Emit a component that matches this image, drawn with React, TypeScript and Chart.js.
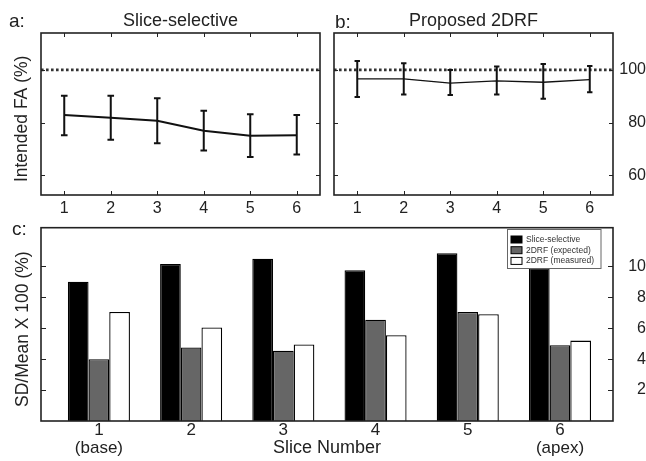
import React, { useEffect, useRef } from 'react';
import { Chart, registerables } from 'chart.js';

Chart.register(...registerables);

const FONT = '"Liberation Sans", Arial, Helvetica, sans-serif';
Chart.defaults.font.family = FONT;
Chart.defaults.color = '#222';

// ---------- data ----------
const sliceNumbers = [1, 2, 3, 4, 5, 6];
const sliceSubLabels = ['(base)', '', '', '', '', '(apex)'];
const faTicks = [60, 80, 100];
const intendedFA = 100;

// a: Slice-selective (mean, lower, upper of error bars)
const ssMean = [82.9, 81.8, 80.7, 76.9, 75.0, 75.2];
const ssLow = [75.2, 73.5, 72.1, 69.4, 66.9, 67.9];
const ssHigh = [90.2, 90.2, 89.2, 84.5, 83.2, 82.9];

// b: Proposed 2DRF
const rfMean = [96.6, 96.6, 95.0, 95.8, 95.3, 96.3];
const rfLow = [89.7, 90.7, 90.5, 90.7, 89.0, 91.5];
const rfHigh = [103.4, 102.5, 100.0, 101.3, 102.2, 101.5];

// c: SD/Mean x 100
const barSeriesNames = ['Slice-selective', '2DRF (expected)', '2DRF (measured)'];
const sliceSelectiveCV = [9.0, 10.15, 10.5, 9.75, 10.85, 9.9];
const expectedCV = [4.0, 4.75, 4.55, 6.55, 7.05, 4.9];
const measuredCV = [7.05, 6.05, 4.95, 5.55, 6.9, 5.2];
const cvTicks = [2, 4, 6, 8, 10];

// axis ranges
const FA_MIN = 52.5;
const FA_MAX = 114;
const X_MIN = 0.5;
const X_MAX = 6.5;
const BAR_X_MIN = 0.372;
const BAR_X_MAX = 6.575;
const CV_MIN = 0;
const CV_MAX = 12.5;

// ---------- helpers ----------
function fixedTicks(values: number[]) {
  return (scale: any) => {
    scale.ticks = values.map((v) => ({ value: v }));
  };
}
function fixWidth(w: number) {
  return (scale: any) => {
    scale.width = w;
    scale.paddingTop = 0;
    scale.paddingBottom = 0;
    scale.paddingLeft = 0;
    scale.paddingRight = 0;
  };
}
function fixHeight(h: number) {
  return (scale: any) => {
    scale.height = h;
    scale.paddingTop = 0;
    scale.paddingBottom = 0;
    scale.paddingLeft = 0;
    scale.paddingRight = 0;
  };
}

const noGrid = { display: false, drawTicks: false, drawOnChartArea: false };

function makeFrame(xTicks: boolean, tickLen: number) {
  return {
    id: 'frame',
    afterDraw(chart: any) {
      const { ctx, chartArea: a } = chart;
      ctx.save();
      ctx.strokeStyle = '#222';
      ctx.lineWidth = 1;
      const line = (x1: number, y1: number, x2: number, y2: number) => {
        ctx.beginPath();
        ctx.moveTo(x1, y1);
        ctx.lineTo(x2, y2);
        ctx.stroke();
      };
      if (xTicks) {
        const xs = chart.scales.x;
        for (const t of xs.ticks) {
          const px = Math.round(xs.getPixelForValue(t.value)) + 0.5;
          line(px, a.bottom, px, a.bottom - tickLen);
          line(px, a.top, px, a.top + tickLen);
        }
      }
      const ys = chart.scales.y;
      for (const t of ys.ticks) {
        const py = Math.round(ys.getPixelForValue(t.value)) + 0.5;
        line(a.left, py, a.left + tickLen, py);
        line(a.right, py, a.right - tickLen, py);
      }
      ctx.lineWidth = 1.6;
      ctx.strokeRect(a.left, a.top, a.right - a.left, a.bottom - a.top);
      ctx.restore();
    },
  };
}

function makeErrorBars(low: number[], high: number[], cap: number, width: number) {
  return {
    id: 'errorBars',
    afterDatasetsDraw(chart: any) {
      const xs = chart.scales.x;
      const ys = chart.scales.y;
      const { ctx } = chart;
      ctx.save();
      ctx.strokeStyle = '#111';
      ctx.lineWidth = width;
      low.forEach((lo, i) => {
        const x = xs.getPixelForValue(sliceNumbers[i]);
        const yl = ys.getPixelForValue(lo);
        const yh = ys.getPixelForValue(high[i]);
        ctx.beginPath();
        ctx.moveTo(x, yl);
        ctx.lineTo(x, yh);
        ctx.moveTo(x - cap, yl);
        ctx.lineTo(x + cap, yl);
        ctx.moveTo(x - cap, yh);
        ctx.lineTo(x + cap, yh);
        ctx.stroke();
      });
      ctx.restore();
    },
  };
}

const barLegend = {
  id: 'barLegend',
  afterDraw(chart: any) {
    const { ctx, chartArea: a } = chart;
    const w = 93.5;
    const h = 39;
    const x0 = Math.round(a.right - 106.5) + 0.5;
    const y0 = Math.round(a.top + 1) + 0.5;
    ctx.save();
    ctx.fillStyle = '#fff';
    ctx.fillRect(x0, y0, w, h);
    ctx.strokeStyle = '#666';
    ctx.lineWidth = 1;
    ctx.strokeRect(x0, y0, w, h);
    chart.data.datasets.forEach((ds: any, i: number) => {
      const cy = y0 + 10 + i * 10.7;
      ctx.fillStyle = ds.backgroundColor;
      ctx.fillRect(x0 + 3.5, cy - 3.5, 11, 7);
      ctx.strokeStyle = '#000';
      ctx.strokeRect(x0 + 3.5, cy - 3.5, 11, 7);
      ctx.fillStyle = '#333';
      ctx.font = `8.5px ${FONT}`;
      ctx.textBaseline = 'middle';
      ctx.textAlign = 'left';
      ctx.fillText(ds.label, x0 + 18.5, cy);
    });
    ctx.restore();
  },
};

function topPanel(
  mean: number[],
  low: number[],
  high: number[],
  titleText: string,
  side: 'left' | 'right',
  lineWidth: number,
  cap: number
): any {
  const yAxis: any = {
    type: 'linear',
    position: side,
    min: FA_MIN,
    max: FA_MAX,
    afterBuildTicks: fixedTicks(faTicks),
    grid: noGrid,
    border: { display: false },
  };
  if (side === 'left') {
    Object.assign(yAxis, {
      afterFit: fixWidth(41),
      ticks: { display: false },
      title: {
        display: true,
        text: 'Intended FA (%)  ',
        font: { size: 17.5 },
        padding: { top: 11.5, bottom: 0 },
      },
    });
  } else {
    Object.assign(yAxis, {
      afterFit: fixWidth(33),
      ticks: { font: { size: 16 }, crossAlign: 'far', padding: 4 },
    });
  }
  return {
    type: 'line',
    data: {
      datasets: [
        {
          label: titleText,
          data: sliceNumbers.map((x, i) => ({ x, y: mean[i] })),
          borderColor: '#111',
          borderWidth: lineWidth,
          pointRadius: 0,
          tension: 0,
          fill: false,
        },
        {
          label: 'Intended FA',
          data: [
            { x: X_MIN, y: intendedFA },
            { x: X_MAX, y: intendedFA },
          ],
          borderColor: '#333',
          borderWidth: 2.6,
          borderDash: [2.6, 2.4],
          pointRadius: 0,
          fill: false,
        },
      ],
    },
    options: {
      responsive: false,
      animation: false,
      events: [],
      layout: {
        padding:
          side === 'left'
            ? { left: 0, right: 7, top: 0, bottom: 0 }
            : { left: 7, right: 0, top: 0, bottom: 0 },
      },
      scales: {
        x: {
          type: 'linear',
          min: X_MIN,
          max: X_MAX,
          offset: false,
          afterBuildTicks: fixedTicks(sliceNumbers),
          afterFit: fixHeight(27),
          grid: noGrid,
          border: { display: false },
          ticks: { font: { size: 16 }, padding: 4, maxRotation: 0, autoSkip: false },
        },
        y: yAxis,
      },
      plugins: {
        legend: { display: false },
        tooltip: { enabled: false },
        title: {
          display: true,
          text: titleText,
          fullSize: false,
          font: { size: 18, weight: 'normal' },
          padding: { top: 10.5, bottom: 0.9 },
          color: '#222',
        },
      },
    },
    plugins: [makeErrorBars(low, high, cap, 2), makeFrame(true, 4)],
  };
}

function barPanel(): any {
  const values = [sliceSelectiveCV, expectedCV, measuredCV];
  const colors = ['#000000', '#666666', '#ffffff'];
  return {
    type: 'bar',
    data: {
      datasets: values.map((vals, k) => ({
        label: barSeriesNames[k],
        data: sliceNumbers.map((x, i) => ({ x, y: vals[i] })),
        backgroundColor: colors[k],
        borderColor: '#000',
        borderWidth: 1.3,
        categoryPercentage: 0.673,
        barPercentage: 1,
      })),
    },
    options: {
      responsive: false,
      animation: false,
      events: [],
      layout: { padding: { left: 0, right: 0, top: 9.7, bottom: 0 } },
      scales: {
        x: {
          type: 'linear',
          min: BAR_X_MIN,
          max: BAR_X_MAX,
          offset: false,
          afterBuildTicks: fixedTicks(sliceNumbers),
          afterFit: fixHeight(40),
          grid: noGrid,
          border: { display: false },
          ticks: {
            font: { size: 17, lineHeight: 1.08 },
            padding: 0,
            maxRotation: 0,
            autoSkip: false,
            callback: (v: any) => {
              const i = sliceNumbers.indexOf(Number(v));
              const sub = sliceSubLabels[i];
              return sub ? [String(v), sub] : String(v);
            },
          },
          title: {
            display: true,
            text: 'Slice Number',
            font: { size: 18 },
            padding: { top: 0, bottom: 1.8 },
          },
        },
        y: {
          type: 'linear',
          position: 'left',
          min: CV_MIN,
          max: CV_MAX,
          afterBuildTicks: fixedTicks(cvTicks),
          afterFit: fixWidth(41),
          grid: noGrid,
          border: { display: false },
          ticks: { display: false },
          title: {
            display: true,
            text: 'SD/Mean X 100 (%)  ',
            font: { size: 17.5 },
            padding: { top: 13, bottom: 0 },
          },
        },
        y2: {
          type: 'linear',
          position: 'right',
          min: CV_MIN,
          max: CV_MAX,
          afterBuildTicks: fixedTicks(cvTicks),
          afterFit: fixWidth(33),
          grid: noGrid,
          border: { display: false },
          ticks: { font: { size: 16 }, crossAlign: 'far', padding: 8.5 },
        },
      },
      plugins: {
        legend: { display: false },
        tooltip: { enabled: false },
      },
    },
    plugins: [barLegend, makeFrame(false, 5)],
  };
}

export default function App() {
  const aRef = useRef<HTMLCanvasElement>(null);
  const bRef = useRef<HTMLCanvasElement>(null);
  const cRef = useRef<HTMLCanvasElement>(null);

  useEffect(() => {
    const charts = [
      new Chart(aRef.current as HTMLCanvasElement, topPanel(ssMean, ssLow, ssHigh, 'Slice-selective', 'left', 2, 3.3)),
      new Chart(bRef.current as HTMLCanvasElement, topPanel(rfMean, rfLow, rfHigh, 'Proposed 2DRF', 'right', 1.3, 2.7)),
      new Chart(cRef.current as HTMLCanvasElement, barPanel()),
    ];
    return () => charts.forEach((c) => c.destroy());
  }, []);

  const letter: React.CSSProperties = {
    position: 'absolute',
    fontSize: 19,
    lineHeight: '19px',
    color: '#222',
    fontFamily: FONT,
  };

  return (
    <div
      style={{
        position: 'absolute',
        left: 0,
        top: 0,
        width: 646,
        height: 461,
        background: '#fff',
        overflow: 'hidden',
      }}
    >
      <canvas ref={aRef} width={327} height={222} style={{ position: 'absolute', left: 0, top: 0 }} />
      <canvas ref={bRef} width={319} height={222} style={{ position: 'absolute', left: 327, top: 0 }} />
      <canvas ref={cRef} width={646} height={243} style={{ position: 'absolute', left: 0, top: 218 }} />
      <span style={{ ...letter, left: 9, top: 11 }}>a:</span>
      <span style={{ ...letter, left: 335, top: 12 }}>b:</span>
      <span style={{ ...letter, left: 12, top: 219 }}>c:</span>
    </div>
  );
}
